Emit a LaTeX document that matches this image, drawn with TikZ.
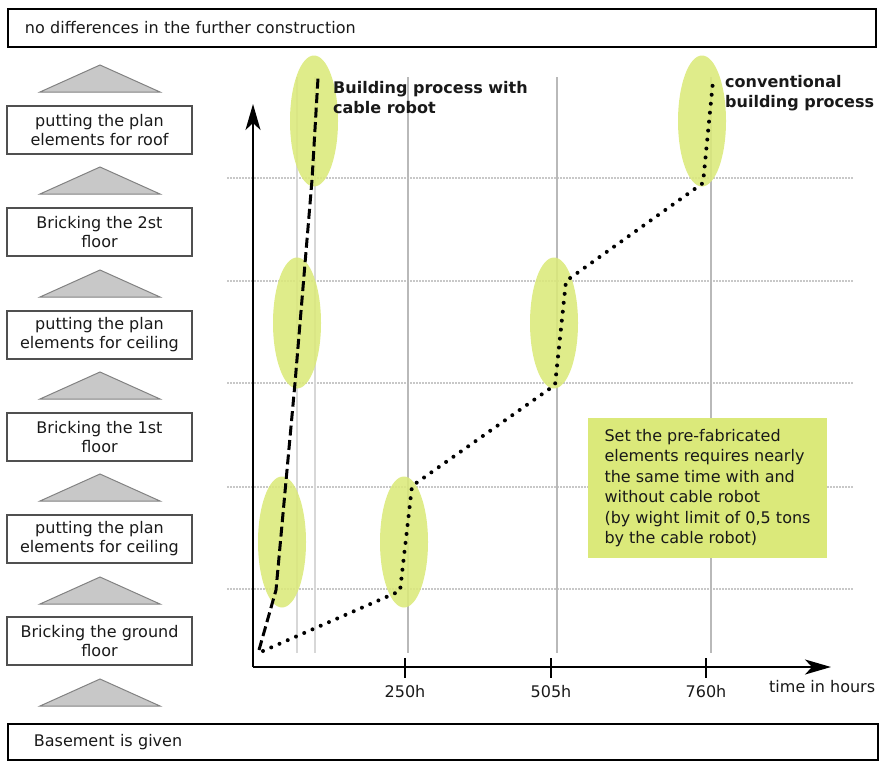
\documentclass[tikz,border=0pt]{standalone}
\usepackage{fontspec}
\setmainfont{DejaVu Sans}
\usetikzlibrary{shapes.geometric,arrows.meta}
\definecolor{lime}{RGB}{219,233,122}
\definecolor{boxline}{RGB}{80,80,80}
\definecolor{trifill}{RGB}{200,200,200}
\definecolor{triline}{RGB}{130,130,130}
\definecolor{gridv}{RGB}{185,185,185}
\definecolor{gridvl}{RGB}{215,215,215}
\definecolor{gridh}{RGB}{200,200,200}
\definecolor{ink}{RGB}{25,25,25}
\begin{document}
\begin{tikzpicture}[x=1pt,y=-1pt,
  txt/.style={font=\fontsize{16}{19}\selectfont, text=ink},
  stepbox/.style={txt, draw=boxline, line width=1.5pt, minimum width=185pt, minimum height=48pt, inner sep=0pt, align=center},
  bar/.style={txt, draw=black, line width=1.8pt, anchor=north west, align=left, inner ysep=0pt},
  tri/.style={fill=trifill, draw=triline, line width=1pt},
  blob/.style={ellipse, fill=lime, minimum width=48pt, minimum height=131pt, inner sep=0pt},
  vgrid/.style={draw=gridv, line width=1.8pt},
  vgridl/.style={draw=gridvl, line width=1.8pt},
  hgrid/.style={draw=gridh, line width=1.3pt, dash pattern=on 2pt off 1pt},
  axis/.style={line width=2pt, -{Stealth[length=26pt,width=15pt,inset=7pt]}},
  tick/.style={line width=1.8pt},
  robot/.style={line width=3pt, dash pattern=on 10pt off 4.5pt},
  conv/.style={line width=4pt, line cap=round, dash pattern=on 0pt off 9pt},
  ttl/.style={font=\fontsize{16}{20}\selectfont\bfseries, text=ink, anchor=west, align=left, inner sep=0pt},
  note/.style={font=\fontsize{16}{20.4}\selectfont, text=ink, fill=lime, minimum width=239pt, minimum height=140pt, align=left, inner xsep=15pt}
]
\useasboundingbox (0,0) rectangle (882,761);

% top and bottom bars
\node[bar, minimum height=38pt, text width=834pt, inner xsep=17pt] (top) at (7,8) {no differences in the further construction};
\node[bar, minimum height=36pt, text width=818pt, inner xsep=26pt] (base) at (7,723) {Basement is given};

% left column boxes
\node[stepbox] (s6) at (99.5,130) {putting the plan\\elements for roof};
\node[stepbox] (s5) at (99.5,232) {Bricking the 2st\\floor};
\node[stepbox] (s4) at (99.5,335) {putting the plan\\elements for ceiling};
\node[stepbox] (s3) at (99.5,437) {Bricking the 1st\\floor};
\node[stepbox] (s2) at (99.5,539) {putting the plan\\elements for ceiling};
\node[stepbox] (s1) at (99.5,641) {Bricking the ground\\floor};

% triangles
\foreach \a in {65,167,270,372,474,577,679}{
  \draw[tri] (100,\a) -- (160,\a+27) -- (40,\a+27) -- cycle;
}

% grid
\foreach \y in {178,281,383,487,589}{
  \draw[hgrid] (227,\y) -- (853,\y);
}
\foreach \x in {297,315}{
  \draw[vgridl] (\x,77) -- (\x,653);
}
\foreach \x in {408,557,711}{
  \draw[vgrid] (\x,77) -- (\x,653);
}

% ellipses
\begin{scope}[fill opacity=0.88]
\node[blob] (e1) at (314,121) {};
\node[blob] (e2) at (297,323) {};
\node[blob] (e3) at (282,542) {};
\node[blob] (e4) at (404,542) {};
\node[blob] (e5) at (554,323) {};
\node[blob] (e6) at (702,121) {};
\end{scope}

% axes
\coordinate (O) at (253,667);
\coordinate (ytip) at (253,104);
\coordinate (xtip) at (831,667);
\draw[axis] (O) -- (ytip);
\draw[axis] (O) -- (xtip);
\foreach \x/\l in {405/250h,551/505h,706/760h}{
  \draw[tick] (\x,658) -- (\x,678);
  \node[txt, inner sep=0pt] (t\l) at (\x,692) {\l};
}
\node[txt, anchor=west, inner sep=0pt] (xl) at (769,687) {time in hours};

% process lines
\coordinate (c0) at (259,650);
\coordinate (c1) at (276,590);
\coordinate (c2) at (295,383);
\coordinate (c3) at (312,180);
\coordinate (c4) at (318,78);
\draw[robot] (c0) -- (c1) -- (c2) -- (c3) -- (c4);

\coordinate (d0) at (263,651);
\coordinate (d1) at (400,591);
\coordinate (d2) at (412,486);
\coordinate (d3) at (555,385);
\coordinate (d4) at (566,281);
\coordinate (d5) at (703,183);
\coordinate (d6) at (713,81);
\draw[conv] (d0) -- (d1) -- (d2) -- (d3) -- (d4) -- (d5) -- (d6);

% labels
\node[ttl] (lr) at (333,98) {Building process with\\cable robot};
\node[ttl] (lc) at (725,93) {conventional\\building process};

\node[note] (n) at (707.5,488) {Set the pre-fabricated\\elements requires nearly\\the same time with and\\without cable robot\\(by wight limit of 0,5 tons\\by the cable robot)};
\end{tikzpicture}
\end{document}
